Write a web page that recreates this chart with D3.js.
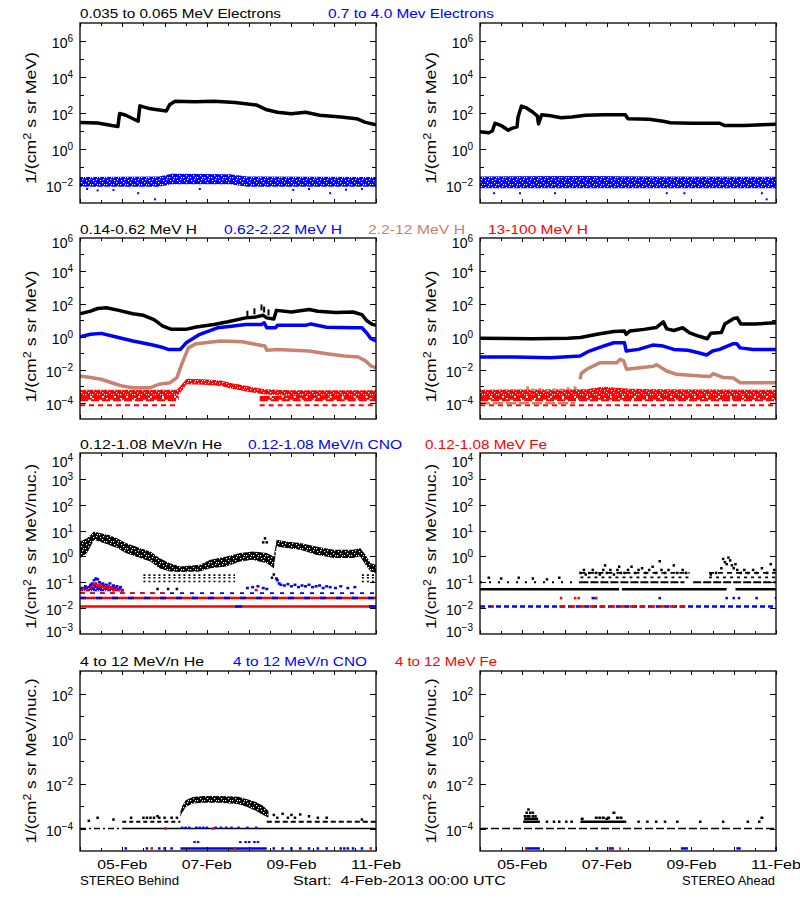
<!DOCTYPE html>
<html><head><meta charset="utf-8">
<script src="https://cdn.jsdelivr.net/npm/d3@7"></script>
<style>body{margin:0;background:#fff} svg{display:block} text{font-family:"Liberation Sans",Arial,sans-serif}</style>
</head><body><svg id="c" width="800" height="900"></svg>
<script>
// ---------------- DATA (hours since 4-Feb-2013 00:00 UTC) ----------------
// Panel 1: electrons
const eLowBT = [0,10,18,21.5,22.5,26,33,34,40,49,51,54,65,76,88,100,106,112,120,128,136,148,157,162,168];
const eLowBV = [30,28,20,18,95,75,35,250,170,130,300,450,420,450,380,280,150,110,90,110,75,60,48,30,22];
const eHighBT = [0,45,52,85,95,168];
const eHighBLo = [0.008,0.008,0.011,0.011,0.008,0.008];
const eHighBHi = [0.028,0.03,0.042,0.04,0.03,0.028];
const eHighBOutT = [4,10,19,33,42.6,68,121,130,142,151,160];
const eHighBOutV = [6e-3,5e-3,5.3e-3,3.5e-3,1.6e-3,6e-3,5.3e-3,6e-3,3.5e-3,5.5e-3,6e-3];

const eLowAT = [0,5,7,8.5,12,16,18,21,21.6,23.5,26,30,32.5,33.2,35,40,46,52,60,70,80,82.5,84,96,104,108,120,136,139,150,160,168];
const eLowAV = [9,8,10,27,20,11,14,17,60,240,200,110,70,25,80,70,55,60,75,80,80,80,48,45,35,29,27,27,20,20,22,24];
const eHighAT = [0,60,100,168];
const eHighALo = [0.0065,0.0065,0.0065,0.0065];
const eHighAHi = [0.03,0.032,0.03,0.029];
const eHighAOutT = [8,22.7,42.6,106,116,160,162.7];
const eHighAOutV = [3.5e-3,3.5e-3,3.5e-3,3.5e-3,3.5e-3,3.5e-3,1.6e-3];

// Panel 2: protons
const hLowBT = [0,6,10,15,22,30,36,42,47,52,60,66,76,84,94,100,104,106,110,111.5,120,130,135,145,155,160,163,166,168];
const hLowBV = [25,36,52,57,40,25,20,11,4.4,2.8,2.8,3.9,5.6,8.1,14,16,20,14,12,40,32,45,35,30,32,22,9,5.6,5];
const hLowBSpikeT = [95,99,103,104.5,107];
const hLowBSpikeV = [25,35,60,45,30];
const hMidBT = [0,6,12,20,30,40,46,50,57,60.5,68,78,86,94,103,104.5,106,111,112,128,131,140,155,160,162.5,165,168];
const hMidBV = [1.0,1.4,1.6,1.0,0.55,0.34,0.24,0.17,0.17,0.45,1.4,3.5,4.4,5.6,5.6,7,3.5,3.5,4.9,4.9,6,3.8,3.5,3.5,1.8,0.8,0.55];
const hHighBT = [0,6,12,18,24,30,40,45,51,55,57.7,61.5,66,80,92,100,105,106,112,130,140,150,158,162,165,168];
const hHighBV = [4.1e-3,3.3e-3,2.6e-3,1.6e-3,1.0e-3,8e-4,8e-4,1.3e-3,1.6e-3,3.3e-3,0.021,0.21,0.38,0.55,0.5,0.34,0.27,0.15,0.17,0.135,0.093,0.067,0.058,0.034,0.017,0.013];
const hTopBT = [0,55,57,60.5,70,80,85,95,105,120,168];
const hTopBHi = [5.9e-4,5.9e-4,1e-3,2.8e-3,2.6e-3,2.2e-3,1.6e-3,1e-3,6.4e-4,5.5e-4,5.5e-4];
const hTopBLo = [2.5e-4,2.5e-4,4e-4,1.3e-3,1.2e-3,1e-3,7.5e-4,4.6e-4,3.1e-4,2.5e-4,2.5e-4];
const hTopLevels = [2.2e-4,1.7e-4,1.4e-4,6.9e-5];

const hLowAT = [0,30,50,57,68,76,82,83,85,93,100,104,106,110,115,119,124,129,131,137,139,144,146,148,156,168];
const hLowAV = [0.8,0.75,0.8,0.9,1.5,2.1,2.2,1.4,2.2,2.8,3.6,8,3,2.4,3.5,1.7,1.1,0.75,1.6,1.8,6,13,14,6,6,7];
const hMidAT = [0,20,40,56.8,62,70,76,82,83,90,98,104,110,118,124,128.6,132,136,143.8,145.7,147.6,155,168];
const hMidAV = [0.059,0.059,0.053,0.067,0.135,0.27,0.43,0.43,0.135,0.17,0.31,0.27,0.17,0.15,0.107,0.078,0.135,0.17,0.38,0.38,0.21,0.17,0.17];
const hHighAT = [56.8,57.5,60.5,68,77.6,79.5,81.5,83.2,98.4,100.3,105.9,111.6,124.9,130.5,132.4,138.1,143.8,147.6,168];
const hHighAV = [2.6e-3,6e-3,0.0105,0.026,0.026,0.042,0.035,0.0105,0.016,0.02,8.3e-3,5.2e-3,4.1e-3,3.8e-3,5.7e-3,3.3e-3,3.1e-3,1.6e-3,1.6e-3];
const hHighAOutT = [27,30,34,38,42,46,50,54];
const hHighAOutV = [8e-4,6e-4,6.5e-4,5.5e-4,6e-4,6e-4,7e-4,8e-4];
const hHighALevel = 9e-5;
const hTopAT = [0,60,70,85,100,168];
const hTopAHi = [6e-4,6.5e-4,9e-4,7e-4,6.5e-4,6e-4];
const hTopALo = [2.5e-4,2.5e-4,2.5e-4,2.5e-4,2.5e-4,2.5e-4];

// Panel 3: 0.12-1.08 MeV/n
const heBT = [0,4,8,11,16,21,26,34,40,45,51,57,68,74,83,91,98,106,110,111.6,117,125,134,144,155,159,162,165,168];
const heBHi = [3.8,5.1,9.3,8,6.9,5.1,3.3,2.1,1.56,0.86,0.55,0.41,0.48,0.74,1.0,1.35,1.56,1.35,1.0,4.4,3.8,3.3,2.44,1.8,1.8,2.1,1.16,0.55,0.48];
const heBLo = [0.86,1.35,4.4,3.8,2.8,2.1,1.35,0.86,0.64,0.35,0.26,0.25,0.26,0.35,0.41,0.64,0.74,0.55,0.35,2.44,2.1,1.8,1.16,0.86,0.86,1.0,0.48,0.26,0.23];
const heBLevels = [0.19,0.15,0.107];
const heBOutT = [44,50,55,104,105,106,109,110];
const heBOutV = [0.055,0.055,0.055,3.5,5,3.5,0.15,0.2];
const cnoBBandT = [0,4,8,12,16,20,24];
const cnoBBandLo = [0.045,0.045,0.045,0.045,0.045,0.045,0.045];
const cnoBBandHi = [0.06,0.07,0.085,0.08,0.075,0.065,0.055];
const cnoBDotT = [1,3,5,6,7,8,9,10,11,12,13,14,15,16,17,18,19,20,21,22,23,24,95,98,101,104,106,111.5,112,113,114,116,118,120,122,124,126,128,130,132,134,136,138,140,142,145,148,152,156];
const cnoBDotV = [0.06,0.07,0.065,0.08,0.09,0.12,0.14,0.13,0.1,0.085,0.09,0.075,0.08,0.07,0.09,0.065,0.075,0.06,0.07,0.055,0.065,0.05,0.06,0.065,0.07,0.06,0.055,0.14,0.12,0.09,0.08,0.075,0.085,0.07,0.08,0.065,0.075,0.07,0.08,0.065,0.07,0.075,0.06,0.07,0.065,0.06,0.07,0.06,0.065];
const feBDotT = [2,4,6,7,8,9,10,11,12,13,14,15,16,17,18,19,20,22,24,100];
const feBDotV = [0.055,0.05,0.06,0.07,0.085,0.09,0.075,0.07,0.08,0.065,0.06,0.07,0.055,0.065,0.06,0.05,0.055,0.05,0.048,0.05];
const ionLevels = [0.0116,0.0245,0.038];

const heADotT = [5,12,22,30,38,45,57,59,60,62,64,66,68,70,71,72,74,76,78,79,80,82,84,86,88,90,92,94,96,98,100,102,103,105,107,110,112,115,117,131,134,137,138,139,140,141,142,143,144,145,146,148,150,152,155,157,160,163,165,167];
const heADotV = [0.15,0.14,0.15,0.14,0.13,0.15,0.23,0.3,0.2,0.23,0.3,0.23,0.2,0.3,0.45,0.23,0.3,0.2,0.3,0.4,0.23,0.23,0.3,0.4,0.23,0.3,0.35,0.23,0.3,0.4,0.23,0.65,0.3,0.23,0.3,0.45,0.23,0.3,0.23,0.2,0.23,0.35,0.8,0.6,0.5,0.9,0.7,0.45,0.35,0.5,0.3,0.23,0.3,0.23,0.3,0.23,0.35,0.23,0.5,0.3];
const heALevels = [0.054,0.1,0.154,0.23];
const cnoADot2T = [64,65.5,102,140,144,147,157,168];
const feADot2T = [46,54,56,66];

// Panel 4: 4-12 MeV/n
const he4BHumpT = [57,58,60,64,70,80,90,95,100,104,107];
const he4BHumpHi = [6e-4,1e-3,1.8e-3,2.5e-3,2.8e-3,2.8e-3,2.6e-3,2e-3,1.5e-3,1e-3,6e-4];
const he4BHumpLo = [3e-4,5e-4,9e-4,1.3e-3,1.4e-3,1.4e-3,1.2e-3,9e-4,6e-4,4e-4,3e-4];
const he4BOutT = [5,10,19,29,36,38,40,42,44,45,48,52,55,110,112,115,118,120,122,125,130,135,140,160];
const he4BOutV = [2.2e-4,3e-4,2.5e-4,3e-4,3e-4,3e-4,3e-4,3e-4,3.5e-4,3e-4,3e-4,3e-4,3e-4,4e-4,3e-4,4.5e-4,3e-4,4e-4,3e-4,4.2e-4,3.5e-4,3e-4,3e-4,2.5e-4];
const cno4BMidT = [58,60,62,66,68,70,72,77,80,83,86,90,95,100];
const cno4BLowT = [26,38,45,48,52,110,115,120,125,130,135,140,148,150,152,155,160];
const cno4BMid2T = [65,67,91,94,96,99,101];
const fe4BLowT = [40.7,88,165];
const fe4BMidT = [48.6,75.7];
const levels4 = [1e-4,2e-4,1.3e-5,2.5e-5];

const he4AClT = [25.5,27,28,30,31.5,26.5,28.5,30,27.5];
const he4AClV = [3.5e-4,3.5e-4,3.5e-4,3.5e-4,3.5e-4,5e-4,5e-4,5e-4,7e-4];
const he4ASparseT = [38,42,45,49,52,90,95,100,105,112,125,138,152,158.5];
const he4AUpT = [58,66,68,70,72,73,76,78,80,160];
const he4AUpV = [2.7e-4,3e-4,3e-4,3e-4,2.7e-4,3e-4,5e-4,3e-4,3e-4,3e-4];

// Text
const titles = [
  ["0.035 to 0.065 MeV Electrons","0.7 to 4.0 Mev Electrons"],
  ["0.14-0.62 MeV H","0.62-2.22 MeV H","2.2-12 MeV H","13-100 MeV H"],
  ["0.12-1.08 MeV/n He","0.12-1.08 MeV/n CNO","0.12-1.08 MeV Fe"],
  ["4 to 12 MeV/n He","4 to 12 MeV/n CNO","4 to 12 MeV Fe"]
];
const startLabel = "Start:  4-Feb-2013 00:00 UTC";
const sideLabels = ["STEREO Behind","STEREO Ahead"];

// ---------------- DRAWING ----------------
const BLUE="#0000ff", RED="#ff0000", TAN="#c8836e", BLK="#000000";
const svg = d3.select("#c");
svg.append("rect").attr("width",800).attr("height",900).attr("fill","#fff");
const defs = svg.append("defs");
// dense speckle pattern to mimic a crowded scatter of points
function speckle(id,color){
  const p = defs.append("pattern").attr("id",id).attr("width",7).attr("height",7).attr("patternUnits","userSpaceOnUse");
  p.append("rect").attr("width",7).attr("height",7).attr("fill",color);
  [[1,2],[4,0],[5,4],[2,5],[6,2]].forEach(c=>
    p.append("rect").attr("x",c[0]).attr("y",c[1]).attr("width",1.2).attr("height",1.2).attr("fill","#fff"));
}
speckle("spkBlk",BLK); speckle("spkRed",RED); speckle("spkBlue",BLUE);

const START = Date.UTC(2013,1,4);
const toDate = h => new Date(START + h*3600000);

const sides = [{x0:80,x1:376},{x0:480,x1:776}];
const rows = [
  {top:23, bot:203, dom:[1e-3,1e7], lab:[-2,0,2,4,6], ylab:"MeV)", ly:5},
  {top:238,bot:419, dom:[1e-5,1e6], lab:[-4,-2,0,2,4,6], ylab:"MeV)", ly:8},
  {top:453,bot:634, dom:[1e-3,1e4], lab:[-3,-2,-1,0,1,2,3,4], ylab:"MeV/nuc.)", ly:3},
  {top:671,bot:851, dom:[1e-5,1e3], lab:[-4,-2,0,2], ylab:"MeV/nuc.)", ly:0}
];

function makePanel(r, s){
  const R = rows[r], S = sides[s];
  const x = d3.scaleUtc().domain([toDate(0),toDate(168)]).range([S.x0,S.x1]);
  const y = d3.scaleLog().domain(R.dom).range([R.bot,R.top]);
  const g = svg.append("g");
  const clipId = `clip${r}${s}`;
  defs.append("clipPath").attr("id",clipId).append("rect")
    .attr("x",S.x0).attr("y",R.top).attr("width",S.x1-S.x0).attr("height",R.bot-R.top);
  const data = g.append("g").attr("clip-path",`url(#${clipId})`);
  const ax = g.append("g");
  ax.append("rect").attr("x",S.x0).attr("y",R.top).attr("width",S.x1-S.x0).attr("height",R.bot-R.top)
    .attr("fill","none").attr("stroke","#000").attr("stroke-width",1.3);
  const xt = x.ticks(d3.utcHour.every(12));
  xt.forEach(d=>{
    const px = Math.round(x(d))+0.5;
    const len = d.getUTCHours()===0 ? 4 : 3;
    ax.append("line").attr("x1",px).attr("x2",px).attr("y1",R.bot).attr("y2",R.bot-len).attr("stroke","#000");
    ax.append("line").attr("x1",px).attr("x2",px).attr("y1",R.top).attr("y2",R.top+len).attr("stroke","#000");
  });
  const lo = Math.round(Math.log10(R.dom[0])), hi = Math.round(Math.log10(R.dom[1]));
  for(let e=lo;e<=hi;e++){
    const py = Math.round(y(Math.pow(10,e)))+0.5;
    const major = R.lab.includes(e);
    const len = major?6:4;
    if(py>R.top+1 && py<R.bot-1){
      ax.append("line").attr("x1",S.x0).attr("x2",S.x0+len).attr("y1",py).attr("y2",py).attr("stroke","#000");
      ax.append("line").attr("x1",S.x1).attr("x2",S.x1-len).attr("y1",py).attr("y2",py).attr("stroke","#000");
    }
    if(major){
      let off = 6;
      if(py<R.top+2) off = (r===2)?13:9;
      if(py>R.bot-2) off = 2;
      const t = ax.append("text").attr("x",S.x0-7).attr("y",py+off).attr("text-anchor","end").attr("font-size",14);
      t.append("tspan").text("10");
      t.append("tspan").attr("dy",-6).attr("font-size",10).text(String(e).replace("-","\u2212"));
    }
  }
  const cy = (R.top+R.bot)/2 + R.ly;
  const yl = ax.append("text").attr("transform",`translate(${S.x0-44},${cy}) rotate(-90)`)
    .attr("text-anchor","middle").attr("font-size",14)
    .attr("textLength", r<2?132:165).attr("lengthAdjust","spacingAndGlyphs");
  yl.append("tspan").text("1/(cm");
  yl.append("tspan").attr("dy",-5).attr("font-size",10).text("2");
  yl.append("tspan").attr("dy",5).text(" s sr "+R.ylab);
  if(r===3){
    xt.filter(d=>d.getUTCHours()===0 && d.getUTCDate()%2===1).forEach(d=>{
      ax.append("text").attr("x",x(d)).attr("y",869).attr("text-anchor","middle").attr("font-size",13)
        .attr("textLength",50).attr("lengthAdjust","spacingAndGlyphs").text(d3.utcFormat("%d-%b")(d));
    });
  }
  return {x,y,g:data,X:h=>x(toDate(h))};
}

function lineS(P,T,V,color,w){
  P.g.append("path").attr("d",d3.line().x((d,i)=>P.X(T[i])).y(d=>P.y(d))(V))
    .attr("fill","none").attr("stroke",color).attr("stroke-width",w||3.5).attr("stroke-linejoin","round");
}
function bandS(P,T,LO,HI,fill){
  P.g.append("path").attr("d",d3.area().x((d,i)=>P.X(T[i])).y0((d,i)=>P.y(LO[i])).y1(d=>P.y(d))(HI))
    .attr("fill",fill).attr("stroke","none");
}
function dotsS(P,T,V,color,w,h){
  w=w||2.5; h=h||2.5;
  P.g.selectAll(null).data(T).enter().append("rect")
    .attr("x",(d)=>P.X(d)-w/2).attr("y",(d,i)=>P.y(Array.isArray(V)?V[i]:V)-h/2)
    .attr("width",w).attr("height",h).attr("fill",color);
}
function levelS(P,v,t0,t1,color,dash,w){
  P.g.append("line").attr("x1",P.X(t0)).attr("x2",P.X(t1)).attr("y1",P.y(v)).attr("y2",P.y(v))
    .attr("stroke",color).attr("stroke-width",w||2).attr("stroke-dasharray",dash||null);
}

// ---- Row 0 ----
let P = makePanel(0,0);
bandS(P,eHighBT,eHighBLo,eHighBHi,"url(#spkBlue)");
dotsS(P,eHighBOutT,eHighBOutV,BLUE,2,2);
lineS(P,eLowBT,eLowBV,BLK);
P = makePanel(0,1);
bandS(P,eHighAT,eHighALo,eHighAHi,"url(#spkBlue)");
dotsS(P,eHighAOutT,eHighAOutV,BLUE,2,2);
lineS(P,eLowAT,eLowAV,BLK);

// ---- Row 1 ----
P = makePanel(1,0);
[[0,56],[102,168]].forEach(sg=>{
  levelS(P,hTopLevels[0],sg[0],sg[1],RED,"10,2",2);
  levelS(P,hTopLevels[1],sg[0],sg[1],RED,"12,2",2);
  levelS(P,hTopLevels[2],sg[0],sg[1],RED,"8,3",2);
  levelS(P,hTopLevels[3],sg[0],sg[1],RED,"5,4",2);
});
bandS(P,hTopBT,hTopBLo,hTopBHi,"url(#spkRed)");
lineS(P,hHighBT,hHighBV,TAN);
lineS(P,hMidBT,hMidBV,BLUE);
lineS(P,hLowBT,hLowBV,BLK);
dotsS(P,hLowBSpikeT,hLowBSpikeV,BLK,2,6);
P = makePanel(1,1);
hTopLevels.forEach((v,i)=>levelS(P,v,0,168,RED,["10,2","12,2","8,3","5,4"][i],2));
levelS(P,hHighALevel,0,54,TAN,"10,3",2.5);
bandS(P,hTopAT,hTopALo,hTopAHi,"url(#spkRed)");
dotsS(P,hHighAOutT,hHighAOutV,TAN,3,2.5);
lineS(P,hHighAT,hHighAV,TAN);
lineS(P,hMidAT,hMidAV,BLUE);
lineS(P,hLowAT,hLowAV,BLK);

// ---- Row 2 ----
P = makePanel(2,0);
levelS(P,ionLevels[0],0,168,RED,null,2.5);
levelS(P,ionLevels[0],88,92,BLUE,null,2.5);
levelS(P,ionLevels[0],164,168,BLUE,null,2.5);
levelS(P,ionLevels[1],0,168,RED,null,2.5);
levelS(P,ionLevels[1],0,168,BLUE,"6,10",2.5);
levelS(P,ionLevels[2],0,168,BLUE,"4,6",1.8);
levelS(P,ionLevels[2],0,50,RED,"5,5",1.8);
heBLevels.forEach(v=>{ levelS(P,v,36,88,BLK,"2,3",1.6); levelS(P,v,160,168,BLK,"2,3",1.6); });
bandS(P,heBT,heBLo,heBHi,"url(#spkBlk)");
dotsS(P,heBOutT,heBOutV,BLK);
bandS(P,cnoBBandT,cnoBBandLo,cnoBBandHi,"url(#spkBlue)");
dotsS(P,cnoBDotT,cnoBDotV,BLUE,3,2.5);
dotsS(P,feBDotT,feBDotV,RED,3,2.5);
P = makePanel(2,1);
levelS(P,ionLevels[0],0,168,BLUE,"5,3",2.5);
levelS(P,ionLevels[0],45,117,RED,"6,4",2.5);
levelS(P,ionLevels[0],0,12,RED,"2,10",2.5);
dotsS(P,cnoADot2T,ionLevels[1],BLUE,2.5,2.5);
dotsS(P,feADot2T,ionLevels[1],RED,2.5,2.5);
levelS(P,heALevels[0],0,79,BLK,null,2.5);
levelS(P,heALevels[0],80.5,140,BLK,null,2.5);
levelS(P,heALevels[0],145,168,BLK,null,2.5);
levelS(P,heALevels[1],0,57,BLK,"2,7",2);
levelS(P,heALevels[1],57,116,BLK,"8,2",2);
levelS(P,heALevels[1],121,168,BLK,"8,2",2);
[[57,119],[130,168]].forEach(sg=>{
  levelS(P,heALevels[2],sg[0],sg[1],BLK,"3,4",1.8);
  levelS(P,heALevels[3],sg[0],sg[1],BLK,"5,4",1.8);
});
dotsS(P,heADotT,heADotV,BLK,2.5,2.5);

// ---- Row 3 ----
P = makePanel(3,0);
levelS(P,levels4[0],0,24,BLK,"6,3,2,3",1.5);
levelS(P,levels4[0],24,168,BLK,null,1.5);
levelS(P,levels4[1],24,57,BLK,"4,3",2);
levelS(P,levels4[1],106,168,BLK,"5,3",2);
levelS(P,levels4[2],57,106,BLUE,null,2.5);
dotsS(P,cno4BLowT,levels4[2],BLUE,2.5,2.5);
dotsS(P,cno4BMidT,1.1e-4,BLUE,2.5,2);
dotsS(P,cno4BMid2T,levels4[3],BLUE,2.5,2);
dotsS(P,fe4BLowT,levels4[2],RED,2.5,2.5);
dotsS(P,fe4BMidT,levels4[0],RED,2.5,2.5);
bandS(P,he4BHumpT,he4BHumpLo,he4BHumpHi,"url(#spkBlk)");
dotsS(P,he4BOutT,he4BOutV,BLK,2.5,2.5);
P = makePanel(3,1);
levelS(P,levels4[0],0,168,BLK,"8,3",1.5);
levelS(P,levels4[1],24.5,34,BLK,null,2.5);
levelS(P,2.7e-4,25,33,BLK,null,2.5);
levelS(P,levels4[1],57,83,BLK,null,2.5);
dotsS(P,he4AClT,he4AClV,BLK,2.5,2.5);
dotsS(P,he4ASparseT,levels4[1],BLK,2.5,2.5);
dotsS(P,he4AUpT,he4AUpV,BLK,3,2.5);
[[26,34],[65.5,67],[73,76],[114,118],[145.5,148],[167.5,168.5]].forEach(sg=>levelS(P,levels4[2],sg[0],sg[1],BLUE,null,2.5));
[[25.5,26.5],[74,75],[79,80]].forEach(sg=>levelS(P,levels4[2],sg[0],sg[1],RED,null,2.5));

// ---- Titles ----
const titleY = [18,234,449,666];
const titleX = [[80,328],[80,224,368,488],[80,248,425],[80,233,395]];
const titleW = [[201,166],[117,118,97,100],[142,154,122],[124,134,102]];
const titleC = [[BLK,BLUE],[BLK,BLUE,TAN,RED],[BLK,BLUE,RED],[BLK,BLUE,RED]];
titles.forEach((row,r)=>row.forEach((t,i)=>{
  svg.append("text").attr("x",titleX[r][i]).attr("y",titleY[r]).attr("font-size",13)
    .attr("fill",titleC[r][i]).attr("textLength",titleW[r][i]).attr("lengthAdjust","spacingAndGlyphs").text(t);
}));
svg.append("text").attr("x",80).attr("y",885).attr("font-size",13).attr("textLength",99).attr("lengthAdjust","spacingAndGlyphs").text(sideLabels[0]);
svg.append("text").attr("x",293).attr("y",885).attr("font-size",13).attr("textLength",213).attr("lengthAdjust","spacingAndGlyphs").style("white-space","pre").text(startLabel);
svg.append("text").attr("x",682).attr("y",885).attr("font-size",13).attr("textLength",93).attr("lengthAdjust","spacingAndGlyphs").text(sideLabels[1]);
</script></body></html>
